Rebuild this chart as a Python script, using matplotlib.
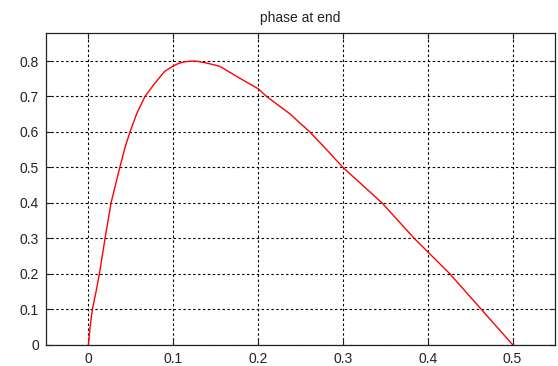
import matplotlib
matplotlib.use("Agg")
import matplotlib.pyplot as plt

# Data
x_vals = [0.0, 0.002, 0.0047, 0.009, 0.013, 0.0196, 0.0267, 0.037, 0.043, 0.049,
          0.057, 0.0667, 0.0785, 0.090, 0.100, 0.107, 0.114, 0.122, 0.129, 0.140,
          0.155, 0.178, 0.200, 0.210, 0.237, 0.261, 0.280, 0.300, 0.346, 0.384,
          0.426, 0.463, 0.500]
y_vals = [0.0, 0.05, 0.10, 0.15, 0.20, 0.30, 0.40, 0.50, 0.555, 0.60,
          0.652, 0.70, 0.738, 0.771, 0.786, 0.794, 0.798, 0.800, 0.799, 0.794,
          0.785, 0.752, 0.722, 0.700, 0.652, 0.600, 0.552, 0.500, 0.400, 0.300,
          0.200, 0.100, 0.0]
x_ticks = [0, 0.1, 0.2, 0.3, 0.4, 0.5]
x_tick_labels = ["0", "0.1", "0.2", "0.3", "0.4", "0.5"]
y_ticks = [0, 0.1, 0.2, 0.3, 0.4, 0.5, 0.6, 0.7, 0.8]
y_tick_labels = ["0", "0.1", "0.2", "0.3", "0.4", "0.5", "0.6", "0.7", "0.8"]
title_text = "phase at end"

plt.rcParams['font.family'] = ['Liberation Sans', 'DejaVu Sans']

fig = plt.figure(figsize=(5.58, 3.66), dpi=100)
ax = fig.add_axes([46/558, 21.3/366, (555-46)/558, (344.7-33)/366])

ax.plot(x_vals, y_vals, color='red', linewidth=1.0)

ax.set_xlim(-0.05, 0.55)
ax.set_ylim(0, 0.879)
ax.set_xticks(x_ticks)
ax.set_xticklabels(x_tick_labels)
ax.set_yticks(y_ticks)
ax.set_yticklabels(y_tick_labels)

ax.grid(True, color='black', linestyle=(0, (2.2, 2.2)), linewidth=0.8)
ax.tick_params(direction='in', length=4, width=0.8, labelsize=10,
               colors='#222222', top=True, right=True, pad=5)
for s in ax.spines.values():
    s.set_color('#222222')
    s.set_linewidth(0.9)

ax.set_title(title_text, fontsize=10, color='#222222', pad=8)

fig.savefig("out.png", dpi=100)
